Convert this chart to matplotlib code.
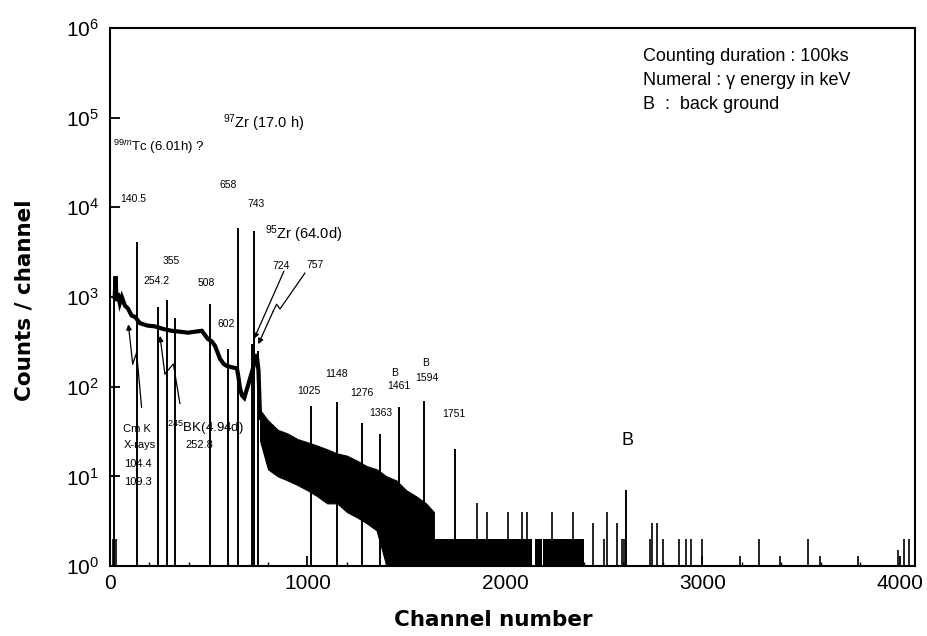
import matplotlib
matplotlib.use("Agg")
import matplotlib.pyplot as plt
import numpy as np

plt.rcParams['font.family'] = ['Liberation Sans', 'DejaVu Sans']
plt.rcParams['mathtext.fontset'] = 'custom'
plt.rcParams['mathtext.rm'] = 'Liberation Sans'
plt.rcParams['mathtext.it'] = 'Liberation Sans:italic'

# smooth continuum below ~760 ch (channel, counts)
cont_ch = [24, 28, 34, 40, 50, 60, 76, 90, 110, 127, 152, 190, 228, 270, 312, 355,
           395, 430, 465, 496, 515, 532, 545, 557, 575, 592, 615, 643, 650, 658, 668,
           680, 700, 712, 724, 743, 752, 760]
cont_cnt = [1000, 1700, 900, 1100, 850, 1000, 800, 750, 620, 600, 510, 480, 470, 440,
            420, 410, 400, 410, 420, 340, 320, 285, 240, 205, 180, 170, 165, 160, 130, 97,
            80, 75, 105, 130, 160, 230, 150, 45]

# noisy band above ~760 ch (upper / lower envelope)
band_ch = [760, 800, 850, 900, 950, 1000, 1050, 1100, 1150, 1200, 1250, 1300, 1350,
           1400, 1450, 1500, 1550, 1600, 1640]
band_hi = [55, 42, 33, 30, 26, 24, 22, 20, 18, 17, 15, 13, 12, 10, 9, 7, 6, 5, 4]
band_lo = [25, 12, 10, 9, 8, 7, 6, 5, 5, 4, 3.5, 3, 2.5, 1, 1, 1, 1, 1, 1]

# dense 1-2 count region
dense_start = [1640, 2152, 2190]
dense_end = [2135, 2185, 2400]

# gamma peaks
peak_ch = [22, 137, 243, 287, 329, 506, 598, 648, 720, 731, 752, 1018, 1151, 1277,
           1367, 1463, 1590, 1747, 2613]
peak_cnt = [1000, 4080, 780, 920, 590, 830, 265, 5870, 300, 5400, 250, 61, 67, 39,
            30, 59, 70, 20, 7]

# isolated background spikes
spike_ch = [15, 30, 1857, 1907, 2017, 2084, 2110, 2236, 2346, 2447, 2501, 2517, 2567,
            2595, 2605, 2734, 2744, 2770, 2800, 2881, 2916, 2942, 2997, 3190, 3286,
            3392, 3534, 3594, 3787, 3990, 4020, 4046]
spike_cnt = [2, 2, 5, 4, 4, 4, 4, 4, 4, 3, 2, 4, 3, 2, 2, 2, 3, 3, 2, 2, 2, 2, 2, 1.3,
             2, 1.3, 2, 1.3, 1.3, 1.5, 2, 2]

fig = plt.figure(figsize=(9.28, 6.36), dpi=100)
ax = fig.add_axes([0.1185, 0.110, 0.8675, 0.846])

ax.plot(cont_ch, cont_cnt, color='k', lw=3, solid_joinstyle='miter')
ax.fill_between(band_ch, band_lo, band_hi, color='k', lw=0.8, edgecolor='k')
for s, e in zip(dense_start, dense_end):
    ax.fill_between([s, e], [1, 1], [2, 2], color='k', lw=0)
ax.vlines(peak_ch, 1, peak_cnt, color='k', lw=1.4)
ax.vlines(spike_ch, 1, spike_cnt, color='k', lw=1.2)

ax.set_yscale('log')
ax.set_ylim(1, 1e6)
ax.set_xlim(0, 4076)
ax.set_yticks([10.0**k for k in range(7)])
ax.set_yticklabels(['10$^{%d}$' % k for k in range(7)])
ax.yaxis.set_minor_locator(matplotlib.ticker.NullLocator())
ax.set_xticks([0, 1000, 2000, 3000, 4000])
ax.set_xticks(np.arange(0, 4001, 200), minor=True)
ax.tick_params(axis='both', which='major', direction='in', length=7, width=1.3,
               labelsize=15)
ax.tick_params(axis='y', which='major', pad=8)
ax.tick_params(axis='x', which='major', pad=6)
ax.tick_params(axis='x', which='minor', direction='in', length=3, width=1)
for sp in ax.spines.values():
    sp.set_linewidth(1.5)

fig.text(25 / 928, 1 - 300 / 636, 'Counts / channel', rotation=90, ha='center',
         va='center', fontsize=15.5, fontweight='bold', family='DejaVu Sans')
fig.text(493 / 928, 1 - 620 / 636, 'Channel number', ha='center', va='center',
         fontsize=15.5, fontweight='bold', family='DejaVu Sans')

# annotations (left-aligned)
left_labels = [
    (15, 47600, '$^{99m}$Tc (6.01h) ?', 9.5),
    (572, 85800, '$^{97}$Zr (17.0 h)', 10.5),
    (51, 12300, '140.5', 7.5),
    (557, 17550, '658', 7.5),
    (694, 10800, '743', 7.5),
    (785, 5010, '$^{95}$Zr (64.0d)', 10.5),
    (825, 2210, '724', 7.5),
    (997, 2270, '757', 7.5),
    (268, 2510, '355', 7.5),
    (167, 1505, '254.2', 7.5),
    (446, 1430, '508', 7.5),
    (542, 501, '602', 7.5),
    (66, 34, 'Cm K', 8),
    (71, 22.1, 'X-rays', 8),
    (71, 13.9, '104.4', 8),
    (71, 8.58, '109.3', 8),
    (289, 35, '$^{245}$BK(4.94d)', 9.5),
    (380, 22.1, '252.8', 8),
    (947, 90, '1025', 7.5),
    (1089, 139, '1148', 7.5),
    (1215, 86, '1276', 7.5),
    (1311, 51, '1363', 7.5),
]
for x, y, s, fs in left_labels:
    ax.text(x, y, s, ha='left', va='center', fontsize=fs)

center_labels = [
    (1443, 143, 'B', 7.5),
    (1463, 103, '1461', 7.5),
    (1600, 185, 'B', 7.5),
    (1605, 126, '1594', 7.5),
    (1742, 50, '1751', 7.5),
    (2618, 25, 'B', 13),
]
for x, y, s, fs in center_labels:
    ax.text(x, y, s, ha='center', va='center', fontsize=fs)

box_lines = ['Counting duration : 100ks', 'Numeral : \u03b3 energy in keV',
             'B  :  back ground']
box_y = [476000, 258000, 139000]
for s, y in zip(box_lines, box_y):
    ax.text(2699, y, s, ha='left', va='center', fontsize=13)

# arrows
arr_kw = dict(arrowstyle='-|>', color='k', lw=0.9, mutation_scale=8,
              shrinkA=0, shrinkB=0)
cm_x = [160, 135, 115, 93]
cm_y = [59, 240, 179, 497]
ax.plot(cm_x[:-1], cm_y[:-1], color='k', lw=0.9)
ax.annotate('', xy=(cm_x[-1], cm_y[-1]), xytext=(cm_x[-2], cm_y[-2]), arrowprops=arr_kw)

bk_x = [354, 321, 278, 253]
bk_y = [65, 179, 139, 369]
ax.plot(bk_x[:-1], bk_y[:-1], color='k', lw=0.9)
ax.annotate('', xy=(bk_x[-1], bk_y[-1]), xytext=(bk_x[-2], bk_y[-2]), arrowprops=arr_kw)

ax.annotate('', xy=(729, 341), xytext=(881, 1944), arrowprops=arr_kw)

z_x = [987, 861, 844, 827, 751]
z_y = [1848, 736, 830, 699, 298]
ax.plot(z_x[:-1], z_y[:-1], color='k', lw=0.9)
ax.annotate('', xy=(z_x[-1], z_y[-1]), xytext=(z_x[-2], z_y[-2]), arrowprops=arr_kw)

fig.savefig('out.png', dpi=100)
